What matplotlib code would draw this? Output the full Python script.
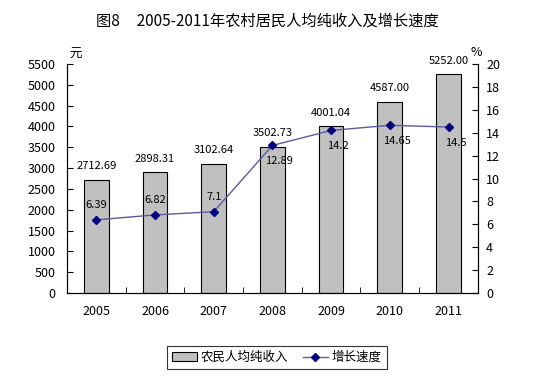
import matplotlib.pyplot as plt
from matplotlib.ticker import MultipleLocator

plt.rcParams['font.family'] = ['Noto Sans CJK SC', 'DejaVu Sans']

years = ['2005', '2006', '2007', '2008', '2009', '2010', '2011']
income = [2712.69, 2898.31, 3102.64, 3502.73, 4001.04, 4587.00, 5252.00]
income_labels = ['2712.69', '2898.31', '3102.64', '3502.73', '4001.04', '4587.00', '5252.00']
growth = [6.39, 6.82, 7.1, 12.89, 14.2, 14.65, 14.5]
growth_labels = ['6.39', '6.82', '7.1', '12.89', '14.2', '14.65', '14.5']

fig = plt.figure(figsize=(5.35, 3.92), dpi=100)
ax = fig.add_axes([0.1252, 0.2526, 0.768, 0.584])
ax2 = ax.twinx()

x = list(range(len(years)))
bars = ax.bar(x, income, width=0.42, color='#c0c0c0', edgecolor='black', linewidth=0.8,
              label='农民人均纯收入')
ax.set_xlim(-0.5, 6.5)
ax.set_ylim(0, 5500)
ax.yaxis.set_major_locator(MultipleLocator(500))
ax.set_xticks(x)
ax.set_xticklabels(years)
for xi, v, s in zip(x, income, income_labels):
    ax.text(xi, v + 330, s, ha='center', va='center', fontsize=8)

line, = ax2.plot(x, growth, color='#5a5aa0', linewidth=1.0, marker='D', markersize=4.5,
                 markerfacecolor='#000080', markeredgecolor='#000080', label='增长速度')
ax2.set_ylim(0, 20)
ax2.yaxis.set_major_locator(MultipleLocator(2))
for i, (xi, v, s) in enumerate(zip(x, growth, growth_labels)):
    if i < 3:
        ax2.text(xi, v + 1.3, s, ha='center', va='center', fontsize=8)
    else:
        ax2.text(xi + 0.12, v - 1.4, s, ha='center', va='center', fontsize=8)

for a in (ax, ax2):
    a.spines['top'].set_visible(False)
    a.spines['left'].set_linewidth(0.8)
    a.spines['right'].set_linewidth(0.8)
    a.spines['bottom'].set_linewidth(0.8)
    a.tick_params(labelsize=9, length=4, width=0.8, colors='black', direction='in')
ax.tick_params(axis='y', pad=8)
ax2.tick_params(axis='y', pad=6)
ax.tick_params(axis='x', length=0, pad=9)
ax.set_xticks([i + 0.5 for i in range(-1, 7)], minor=True)
ax.tick_params(axis='x', which='minor', length=4, direction='in')

ax.text(0.005, 1.015, '元', transform=ax.transAxes, fontsize=9, ha='left', va='bottom')
ax2.text(0.995, 1.02, '%', transform=ax.transAxes, fontsize=9, ha='center', va='bottom')

fig.text(0.5, 0.945, '图8     2005-2011年农村居民人均纯收入及增长速度', ha='center', va='center',
         fontsize=11)

leg = fig.legend(handles=[bars, line], loc='center', bbox_to_anchor=(0.517, 0.088), ncol=2,
                 fontsize=9, frameon=True, fancybox=False, edgecolor='black',
                 handlelength=2.0, handletextpad=0.3, columnspacing=1.2, borderpad=0.4)
leg.get_frame().set_linewidth(0.8)

fig.savefig('out.png', dpi=100)
